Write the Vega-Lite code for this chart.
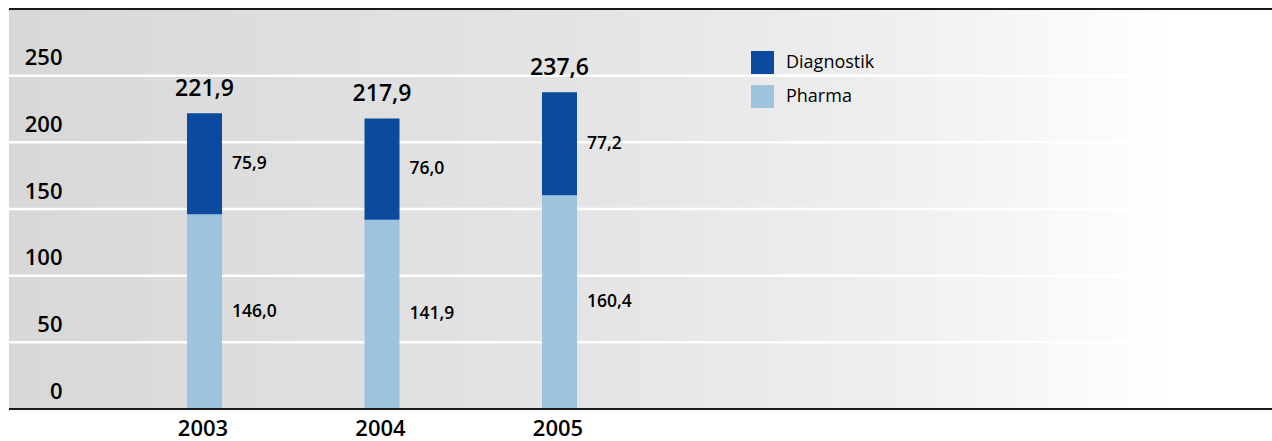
{
  "$schema": "https://vega.github.io/schema/vega-lite/v6.json",
  "width": 1263,
  "height": 400,
  "autosize": {"type": "none"},
  "padding": {"left": 9, "top": 9, "right": 0, "bottom": 32},
  "background": "white",
  "config": {
    "locale": {"number": {"decimal": ",", "thousands": ".", "grouping": [3], "currency": ["", " €"]}},
    "view": {
      "stroke": null,
      "fill": {
        "gradient": "linear", "x1": 0, "y1": 0, "x2": 1, "y2": 0,
        "stops": [
          {"offset": 0, "color": "#d8d8d8"},
          {"offset": 0.45, "color": "#e4e4e4"},
          {"offset": 0.7, "color": "#efefef"},
          {"offset": 0.92, "color": "#ffffff"},
          {"offset": 1, "color": "#ffffff"}
        ]
      }
    },
    "font": "Open Sans"
  },
  "datasets": {
    "sales": [
      {"year": "2003", "segment": "Pharma", "value": 146.0},
      {"year": "2003", "segment": "Diagnostik", "value": 75.9},
      {"year": "2004", "segment": "Pharma", "value": 141.9},
      {"year": "2004", "segment": "Diagnostik", "value": 76.0},
      {"year": "2005", "segment": "Pharma", "value": 160.4},
      {"year": "2005", "segment": "Diagnostik", "value": 77.2}
    ],
    "grid": [{"g": 50}, {"g": 100}, {"g": 150}, {"g": 200}, {"g": 250}]
  },
  "layer": [
    {
      "data": {"name": "grid"},
      "mark": {"type": "rule", "color": "#ffffff", "strokeWidth": 2.5},
      "encoding": {"y": {"field": "g", "type": "quantitative"}}
    },
    {
      "data": {"name": "sales"},
      "mark": {"type": "bar", "width": 35},
      "encoding": {
        "x": {
          "field": "year", "type": "nominal",
          "scale": {"type": "point", "range": [195.5, 550.5], "padding": 0},
          "axis": {
            "title": null, "labelAngle": 0, "ticks": false,
            "domain": false,
            "labelFontSize": 22, "labelFontWeight": 600, "labelColor": "#000000",
            "labelPadding": 9, "labelOffset": -2, "grid": false
          }
        },
        "y": {
          "field": "value", "type": "quantitative",
          "scale": {"domain": [0, 300], "nice": false},
          "axis": {
            "title": null, "values": [0, 50, 100, 150, 200, 250],
            "domain": false, "ticks": false, "grid": false,
            "labelAlign": "right", "labelPadding": -53, "labelBaseline": "alphabetic",
            "labelOffset": -11, "labelFontSize": 22, "labelFontWeight": 600,
            "labelColor": "#000000"
          }
        },
        "color": {
          "field": "segment", "type": "nominal",
          "scale": {"domain": ["Diagnostik", "Pharma"], "range": ["#0b4a9e", "#9dc3de"]},
          "legend": {
            "orient": "none", "legendX": 742, "legendY": 42, "title": null,
            "symbolType": "square", "symbolSize": 529, "symbolStrokeWidth": 0,
            "labelFontSize": 18, "labelFontWeight": "normal", "labelColor": "#000000",
            "labelOffset": 12, "rowPadding": 11
          }
        },
        "order": {"field": "segment", "sort": "descending"}
      }
    },
    {
      "data": {"name": "sales"},
      "transform": [
        {"stack": "value", "groupby": ["year"], "sort": [{"field": "segment", "order": "descending"}], "as": ["v0", "v1"]},
        {"calculate": "(datum.v0 + datum.v1) / 2", "as": "mid"}
      ],
      "mark": {"type": "text", "align": "left", "baseline": "middle", "dx": 27.5, "fontSize": 17.5, "fontWeight": 600, "color": "#000000"},
      "encoding": {
        "x": {"field": "year", "type": "nominal"},
        "y": {"field": "mid", "type": "quantitative"},
        "text": {"field": "value", "type": "quantitative", "format": ".1f"}
      }
    },
    {
      "data": {"name": "sales"},
      "mark": {"type": "text", "align": "center", "baseline": "alphabetic", "dy": -17, "fontSize": 23, "fontWeight": 600, "color": "#000000"},
      "encoding": {
        "x": {"field": "year", "type": "nominal"},
        "y": {"aggregate": "sum", "field": "value", "type": "quantitative"},
        "text": {"aggregate": "sum", "field": "value", "type": "quantitative", "format": ".1f"}
      }
    },
    {
      "data": {"name": "grid"},
      "mark": {"type": "rule", "color": "#1a1a1a", "strokeWidth": 1.5},
      "encoding": {"y": {"datum": 300}}
    },
    {
      "data": {"name": "grid"},
      "mark": {"type": "rule", "color": "#1a1a1a", "strokeWidth": 2},
      "encoding": {"y": {"datum": 0}}
    }
  ]
}
